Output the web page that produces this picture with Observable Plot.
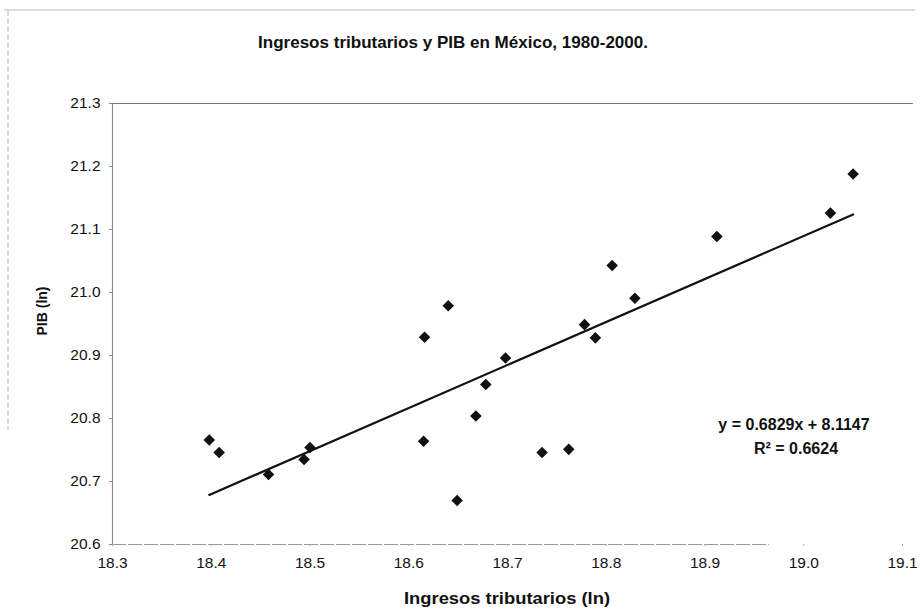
<!DOCTYPE html>
<html><head><meta charset="utf-8">
<script src="https://cdn.jsdelivr.net/npm/d3@7"></script>
<script src="https://cdn.jsdelivr.net/npm/@observablehq/plot@0.6"></script>
<style>
body{margin:0;background:#fff;}
#wrap{position:relative;width:921px;height:610px;overflow:hidden;}
</style></head><body><div id="wrap"></div>
<script>
// Ingresos tributarios (ln) — x
const ingresos = [18.398, 18.408, 18.458, 18.494, 18.500, 18.615, 18.616, 18.640, 18.649, 18.668, 18.678,
                  18.698, 18.735, 18.762, 18.778, 18.789, 18.806, 18.829, 18.912, 19.027, 19.050];
// PIB (ln) — y
const pib      = [20.766, 20.746, 20.711, 20.735, 20.754, 20.764, 20.929, 20.979, 20.670, 20.804, 20.854,
                  20.896, 20.746, 20.751, 20.949, 20.928, 21.043, 20.991, 21.089, 21.126, 21.188];
const xTicks = [18.3, 18.4, 18.5, 18.6, 18.7, 18.8, 18.9, 19.0, 19.1];
const yTicks = [20.6, 20.7, 20.8, 20.9, 21.0, 21.1, 21.2, 21.3];
const slope = 0.6829, intercept = 8.1147, r2 = 0.6624;
const titleText = "Ingresos tributarios y PIB en México, 1980-2000.";
const xTitle = "Ingresos tributarios (ln)";
const yTitle = "PIB (ln)";

const points = ingresos.map((x, i) => ({x, y: pib[i]}));
const [xmin, xmax] = d3.extent(ingresos);
const trend = [xmin, xmax].map(x => ({x, y: slope * x + intercept}));
const fmt = d3.format(".1f");

const chart = Plot.plot({
  width: 921, height: 610,
  marginLeft: 112, marginRight: 19, marginTop: 103, marginBottom: 66,
  style: {fontFamily: "'Liberation Sans', Arial, sans-serif", background: "transparent", color: "#111"},
  x: {domain: [18.3, 19.1]},
  y: {domain: [20.6, 21.3]},
  marks: [
    Plot.ruleY([21.3], {stroke: "#777", strokeWidth: 1.2, x1: 18.3, x2: 19.111}),
    Plot.ruleY([20.6], {stroke: "#999", strokeWidth: 1.2, strokeDasharray: "14,2", x1: 18.3, x2: 18.965}),
    Plot.ruleX([18.3], {stroke: "#888", strokeWidth: 1.2}),
    Plot.axisX({ticks: xTicks, tickFormat: fmt, tickSize: 2, tickPadding: 10, fontSize: 15.5, label: null, stroke: "#aaa"}),
    Plot.axisY({ticks: yTicks, tickFormat: fmt, tickSize: 3, tickPadding: 9, fontSize: 15.5, label: null, stroke: "#888"}),
    Plot.line(trend, {x: "x", y: "y", stroke: "#111", strokeWidth: 2.2}),
    Plot.dot(points, {x: "x", y: "y", symbol: "diamond2", r: 5.2, fill: "#111", stroke: "none"})
  ]
});
document.getElementById("wrap").appendChild(chart);

const svg = d3.select(chart);
// scan frame remnants
svg.append("line").attr("x1", 4).attr("x2", 915).attr("y1", 10).attr("y2", 10).attr("stroke", "#bbb").attr("stroke-width", 1.2);
svg.append("line").attr("x1", 8).attr("x2", 8).attr("y1", 10).attr("y2", 430).attr("stroke", "#bbb").attr("stroke-width", 1).attr("stroke-dasharray", "6,2");

svg.append("text").text(titleText).attr("x", 453).attr("y", 48).attr("text-anchor", "middle")
  .attr("textLength", 390).attr("lengthAdjust", "spacingAndGlyphs")
  .attr("font-family", "'Liberation Sans', Arial, sans-serif").attr("font-weight", "bold").attr("font-size", 17).attr("fill", "#111");
svg.append("text").text(xTitle).attr("x", 507).attr("y", 604).attr("text-anchor", "middle")
  .attr("textLength", 206).attr("lengthAdjust", "spacingAndGlyphs")
  .attr("font-family", "'Liberation Sans', Arial, sans-serif").attr("font-weight", "bold").attr("font-size", 16.5).attr("fill", "#111");
svg.append("text").text(yTitle).attr("transform", "translate(47,311) rotate(-90)").attr("text-anchor", "middle")
  .attr("font-family", "'Liberation Sans', Arial, sans-serif").attr("font-weight", "bold").attr("font-size", 14).attr("fill", "#111");
svg.append("text").text(`y = ${slope}x + ${intercept}`).attr("x", 794).attr("y", 430).attr("text-anchor", "middle")
  .attr("font-family", "'Liberation Sans', Arial, sans-serif").attr("font-weight", "bold").attr("font-size", 16).attr("fill", "#111");
svg.append("text").text(`R² = ${r2}`).attr("x", 796).attr("y", 454).attr("text-anchor", "middle")
  .attr("font-family", "'Liberation Sans', Arial, sans-serif").attr("font-weight", "bold").attr("font-size", 16).attr("fill", "#111");
</script></body></html>
